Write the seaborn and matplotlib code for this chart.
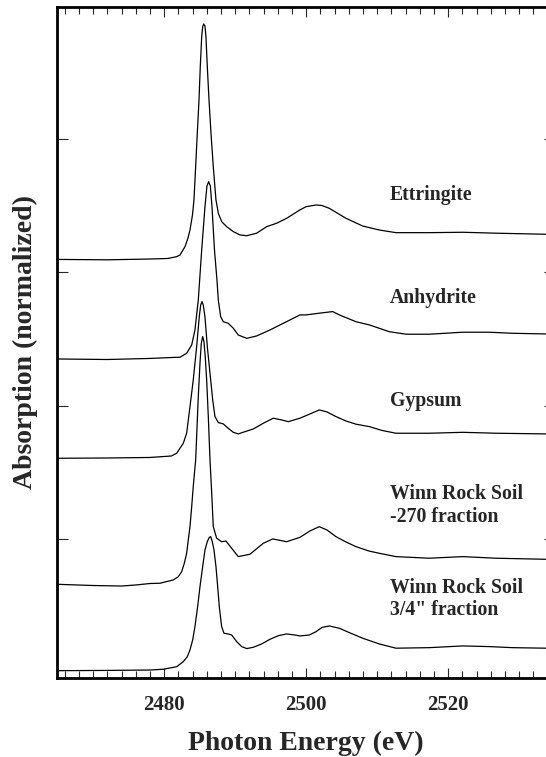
import matplotlib
matplotlib.use('Agg')
import matplotlib.pyplot as plt
from matplotlib.ticker import MultipleLocator, FixedLocator
import seaborn as sns
import pandas as pd

# S K-edge XANES spectra, stacked
ettringite_e = [2464.9, 2472.0, 2478.0, 2480.5, 2481.75, 2482.21, 2482.92, 2483.34, 2483.62, 2483.97,
                2484.18, 2484.42, 2484.65, 2484.89, 2485.07, 2485.27, 2485.41, 2485.55, 2485.73, 2485.87,
                2486.06, 2486.30, 2486.58, 2486.90, 2487.28, 2487.61, 2488.08, 2488.79, 2489.72, 2490.66,
                2491.61, 2493.01, 2494.42, 2495.83, 2497.24, 2499.11, 2499.96, 2501.37, 2502.2, 2503.24,
                2505.59, 2507.94, 2510.28, 2512.63, 2517.32, 2522.03, 2526.72, 2533.76]
ettringite_a = [3.098, 3.095, 3.101, 3.105, 3.119, 3.131, 3.194, 3.259, 3.319, 3.432,
                3.545, 3.795, 4.046, 4.296, 4.546, 4.772, 4.847, 4.867, 4.852, 4.772,
                4.546, 4.296, 4.046, 3.795, 3.545, 3.445, 3.382, 3.344, 3.307, 3.282,
                3.276, 3.295, 3.344, 3.370, 3.407, 3.470, 3.494, 3.507, 3.503, 3.482,
                3.407, 3.349, 3.319, 3.299, 3.299, 3.302, 3.295, 3.287]

anhydrite_e = [2464.9, 2472.0, 2478.0, 2481.0, 2482.21, 2483.15, 2483.86, 2484.32, 2484.79, 2485.27,
               2485.73, 2486.01, 2486.25, 2486.49, 2486.72, 2487.07, 2487.42, 2487.61, 2487.94, 2488.31,
               2489.01, 2489.72, 2490.42, 2491.61, 2493.01, 2494.89, 2496.76, 2499.11, 2499.96, 2501.83,
               2503.72, 2504.65, 2507.0, 2508.87, 2511.69, 2514.04, 2517.32, 2522.03, 2525.77, 2529.07,
               2533.76]
anhydrite_a = [2.350, 2.346, 2.354, 2.361, 2.363, 2.393, 2.455, 2.568, 2.793, 3.169,
               3.494, 3.650, 3.682, 3.650, 3.494, 3.169, 2.944, 2.793, 2.668, 2.630,
               2.618, 2.581, 2.530, 2.505, 2.523, 2.568, 2.618, 2.681, 2.681, 2.694,
               2.706, 2.681, 2.630, 2.606, 2.555, 2.536, 2.536, 2.551, 2.551, 2.543,
               2.538]

gypsum_e = [2464.9, 2472.0, 2478.0, 2481.0, 2481.75, 2482.68, 2483.15, 2483.62, 2484.08, 2484.56,
            2484.93, 2485.13, 2485.31, 2485.49, 2485.73, 2486.06, 2486.44, 2486.82, 2487.14, 2487.61,
            2488.31, 2489.01, 2489.72, 2490.42, 2491.37, 2492.54, 2493.94, 2495.35, 2496.54, 2497.46,
            2499.11, 2500.52, 2501.83, 2502.92, 2504.18, 2505.59, 2507.0, 2508.87, 2510.66, 2512.63,
            2517.32, 2522.03, 2526.72, 2533.76]
gypsum_a = [1.604, 1.606, 1.610, 1.621, 1.642, 1.717, 1.792, 1.992, 2.192, 2.443,
            2.668, 2.756, 2.781, 2.756, 2.668, 2.443, 2.243, 2.042, 1.917, 1.872,
            1.862, 1.829, 1.799, 1.787, 1.804, 1.824, 1.867, 1.905, 1.892, 1.879,
            1.905, 1.937, 1.967, 1.952, 1.917, 1.884, 1.860, 1.842, 1.813, 1.792,
            1.792, 1.799, 1.792, 1.787]

winn270_e = [2464.9, 2470.0, 2474.0, 2476.0, 2478.0, 2479.4, 2481.27, 2481.97, 2482.45, 2482.82,
             2483.15, 2483.38, 2483.62, 2483.86, 2484.08, 2484.42, 2484.79, 2485.03, 2485.21, 2485.41,
             2485.59, 2485.77, 2485.97, 2486.20, 2486.44, 2486.68, 2486.90, 2487.38, 2488.08, 2488.69,
             2489.49, 2490.42, 2492.07, 2493.94, 2495.27, 2497.24, 2499.11, 2500.52, 2501.83, 2502.92,
             2504.18, 2505.59, 2507.0, 2508.83, 2510.28, 2512.63, 2517.32, 2522.03, 2526.72, 2533.76]
winn270_a = [0.657, 0.648, 0.644, 0.652, 0.663, 0.665, 0.690, 0.714, 0.752, 0.815,
             0.890, 0.990, 1.090, 1.240, 1.391, 1.591, 2.067, 2.318, 2.468, 2.518,
             2.480, 2.367, 2.192, 1.917, 1.591, 1.341, 1.090, 1.003, 0.977, 0.982,
             0.928, 0.865, 0.883, 0.965, 0.998, 0.977, 1.010, 1.058, 1.090, 1.065,
             1.015, 0.975, 0.940, 0.907, 0.890, 0.865, 0.853, 0.865, 0.853, 0.845]

winn34_e = [2464.9, 2472.0, 2478.0, 2479.9, 2481.75, 2482.68, 2483.24, 2483.62, 2484.0, 2484.32,
            2484.70, 2485.03, 2485.41, 2485.73, 2486.06, 2486.34, 2486.54, 2486.76, 2487.0, 2487.28,
            2487.52, 2487.75, 2488.08, 2488.41, 2489.01, 2489.49, 2490.20, 2490.90, 2491.61, 2492.54,
            2493.72, 2494.89, 2496.06, 2497.24, 2498.41, 2499.11, 2500.42, 2501.37, 2502.21, 2503.24,
            2504.65, 2506.15, 2507.94, 2510.28, 2512.63, 2517.32, 2522.03, 2525.77, 2529.07, 2533.76]
winn34_a = [0.008, 0.010, 0.013, 0.019, 0.038, 0.076, 0.113, 0.164, 0.239, 0.339,
            0.489, 0.640, 0.790, 0.915, 0.978, 1.010, 1.015, 0.978, 0.915, 0.790,
            0.640, 0.489, 0.339, 0.289, 0.284, 0.276, 0.226, 0.189, 0.174, 0.184,
            0.209, 0.244, 0.271, 0.284, 0.276, 0.269, 0.276, 0.301, 0.333, 0.344,
            0.327, 0.292, 0.252, 0.209, 0.177, 0.181, 0.194, 0.189, 0.181, 0.177]

sample_names = ['Ettringite', 'Anhydrite', 'Gypsum',
                'Winn Rock Soil\n-270 fraction', 'Winn Rock Soil\n3/4" fraction']
x_ticks = [2480, 2500, 2520]
y_ticks = [1, 2, 3, 4]

# where the sample names go (x, baseline of first line)
label_pos = [(2511.8, 3.545), (2511.8, 2.769), (2511.8, 1.997), (2511.8, 1.296), (2511.8, 0.594)]

frames = []
for name, e, a in zip(sample_names,
                      [ettringite_e, anhydrite_e, gypsum_e, winn270_e, winn34_e],
                      [ettringite_a, anhydrite_a, gypsum_a, winn270_a, winn34_a]):
    frames.append(pd.DataFrame({'energy': e, 'absorption': a, 'sample': name}))
df = pd.concat(frames, ignore_index=True)

sns.set_style('ticks')
plt.rcParams['font.family'] = ['Liberation Serif', 'DejaVu Serif']
plt.rcParams['font.weight'] = 'bold'

fig = plt.figure(figsize=(5.46, 7.57), dpi=100)
ax = fig.add_axes([0.1049, 0.1040, 0.9116, 0.8872])

for name in sample_names:
    sub = df[df['sample'] == name]
    sns.lineplot(data=sub, x='energy', y='absorption', ax=ax, color='black',
                 linewidth=0.9, estimator=None, sort=False, legend=False)

for name, (lx, ly) in zip(sample_names, label_pos):
    for i, line in enumerate(name.split('\n')):
        ax.text(lx, ly - i * 0.169, line, fontsize=14.2, fontweight='bold',
                ha='left', va='baseline')

ax.set_xlim(2464.93, 2535.03)
ax.set_ylim(-0.049, 4.997)

ax.xaxis.set_major_locator(FixedLocator(x_ticks))
ax.xaxis.set_minor_locator(MultipleLocator(2))
ax.yaxis.set_major_locator(FixedLocator(y_ticks))
ax.set_yticklabels([])
ax.tick_params(axis='x', which='major', direction='in', length=7.2, width=0.8,
               top=True, bottom=True, labelsize=15, pad=12)
ax.tick_params(axis='x', which='minor', direction='in', length=5, width=0.8,
               top=True, bottom=True)
ax.tick_params(axis='y', which='major', direction='in', length=8, width=0.8,
               left=True, right=True)
for lab in ax.get_xticklabels():
    lab.set_fontweight('bold')

for side in ['left', 'right', 'top', 'bottom']:
    ax.spines[side].set_visible(True)
    ax.spines[side].set_linewidth(2.0)
    ax.spines[side].set_color('black')

ax.set_xlabel('Photon Energy (eV)', fontsize=20, fontweight='bold', va='center')
ax.xaxis.set_label_coords(0.5, -0.0975)
ax.set_ylabel('Absorption (normalized)', fontsize=20, fontweight='bold', va='center')
ax.yaxis.set_label_coords(-0.0649, 0.5)

fig.savefig('out.png', dpi=100)
